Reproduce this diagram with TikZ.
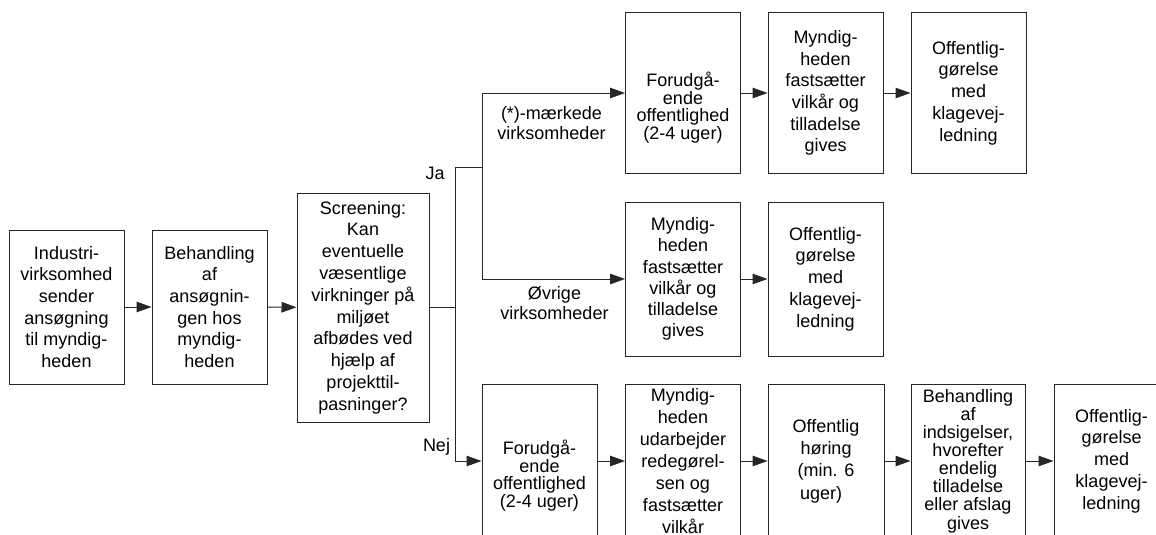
\documentclass[tikz,border=0pt]{standalone}
\usepackage{fontspec}
\setmainfont{Liberation Sans}
\usetikzlibrary{arrows.meta}

\begin{document}
\begin{tikzpicture}[x=1pt,y=-1pt,
  box/.style={draw=black!85, line width=1pt, rectangle, minimum width=115pt,
    minimum height=154pt, inner sep=0pt, align=center,
    font=\fontsize{18}{21.7}\selectfont},
  tall/.style={minimum height=160pt},
  tight/.style={font=\fontsize{18}{17.6}\selectfont},
  lbl/.style={align=center, inner sep=0pt, font=\fontsize{18}{20}\selectfont},
  link/.style={draw=black!85, line width=1pt},
  flow/.style={link, -{Triangle[length=15pt,width=10.5pt]}}]

% page area (the lower and right-hand boxes run off its edges)
\useasboundingbox (0,0) rectangle (1156,535);
\fill[white] (0,0) rectangle (1156,535);
\clip (0,0) rectangle (1156,535);

% application and screening
\node[box] (ans) at (66.5,307) {Industri-\\virksomhed\\sender\\ansøgning\\til myndig-\\heden};
\node[box] (beh) at (209.5,307) {Behandling\\af\\ansøgnin-\\gen hos\\myndig-\\heden};
\node[box, minimum width=132pt, minimum height=229pt, font=\fontsize{18}{21.8}\selectfont] (scr) at (363,307.5)
  {Screening:\\Kan\\eventuelle\\væsentlige\\virkninger på\\miljøet\\afbødes ved\\hjælp af\\projekttil-\\pasninger?};

% Ja: (*)-marked enterprises
\node[box, tall, tight] (tforud) at (683,93) {\rule{0pt}{44pt}Forudgå-\\ende\\offentlighed\\(2-4 uger)};
\node[box, tall] (tmynd) at (825.5,93) {Myndig-\\heden\\fastsætter\\vilkår og\\tilladelse\\gives};
\node[box, tall] (toff) at (968.5,93) {Offentlig-\\gørelse\\med\\klagevej-\\ledning};

% Ja: other enterprises
\node[box, font=\fontsize{18}{21.3}\selectfont] (mmynd) at (683,279) {Myndig-\\heden\\fastsætter\\vilkår og\\tilladelse\\gives};
\node[box] (moff) at (825.5,279) {Offentlig-\\gørelse\\med\\klagevej-\\ledning};

% Nej
\node[box, tight] (nforud) at (539.5,461) {\rule{0pt}{44pt}Forudgå-\\ende\\offentlighed\\(2-4 uger)};
\node[box, font=\fontsize{18}{22}\selectfont] (nmynd) at (683,461) {Myndig-\\heden\\udarbejder\\redegørel-\\sen og\\fastsætter\\vilkår};
\node[box, minimum width=116pt, font=\fontsize{18}{22.3}\selectfont] (nhoer) at (826,461)
  {Offentlig\\høring\\(min. 6\hspace*{14pt}\\uger)\hspace*{10pt}};
\node[box, minimum width=114pt, font=\fontsize{18}{18.1}\selectfont] (nbeh) at (968,461)
  {Behandling\\af\\indsigelser,\\hvorefter\\endelig\\tilladelse\\eller afslag\\gives};
\node[box] (noff) at (1111.5,461) {Offentlig-\\gørelse\\med\\klagevej-\\ledning};

% branch points
\coordinate (split) at (455,307.5);
\coordinate (jafork) at (482,167);

% connectors
\draw[flow] (ans) -- (beh);
\draw[flow] (beh) -- (scr);
\draw[link] (scr.east) -- (split);
\draw[link] (split) |- (jafork);
\draw[flow] (jafork) |- (tforud.west);
\draw[flow] (jafork) |- (mmynd.west);
\draw[flow] (split) |- (nforud.west);

\draw[flow] (tforud) -- (tmynd);
\draw[flow] (tmynd) -- (toff);
\draw[flow] (mmynd) -- (moff);
\draw[flow] (nforud) -- (nmynd);
\draw[flow] (nmynd) -- (nhoer);
\draw[flow] (nhoer) -- (nbeh);
\draw[flow] (nbeh) -- (noff);

% branch labels
\node[lbl] (ja) at (435,173) {Ja};
\node[lbl] (nej) at (436.5,446.5) {Nej};
\node[lbl] (stjerne) at (551.5,123.5) {(*)-mærkede\\virksomheder};
\node[lbl] (oevrige) at (554.5,303.5) {Øvrige\\virksomheder};
\end{tikzpicture}
\end{document}
